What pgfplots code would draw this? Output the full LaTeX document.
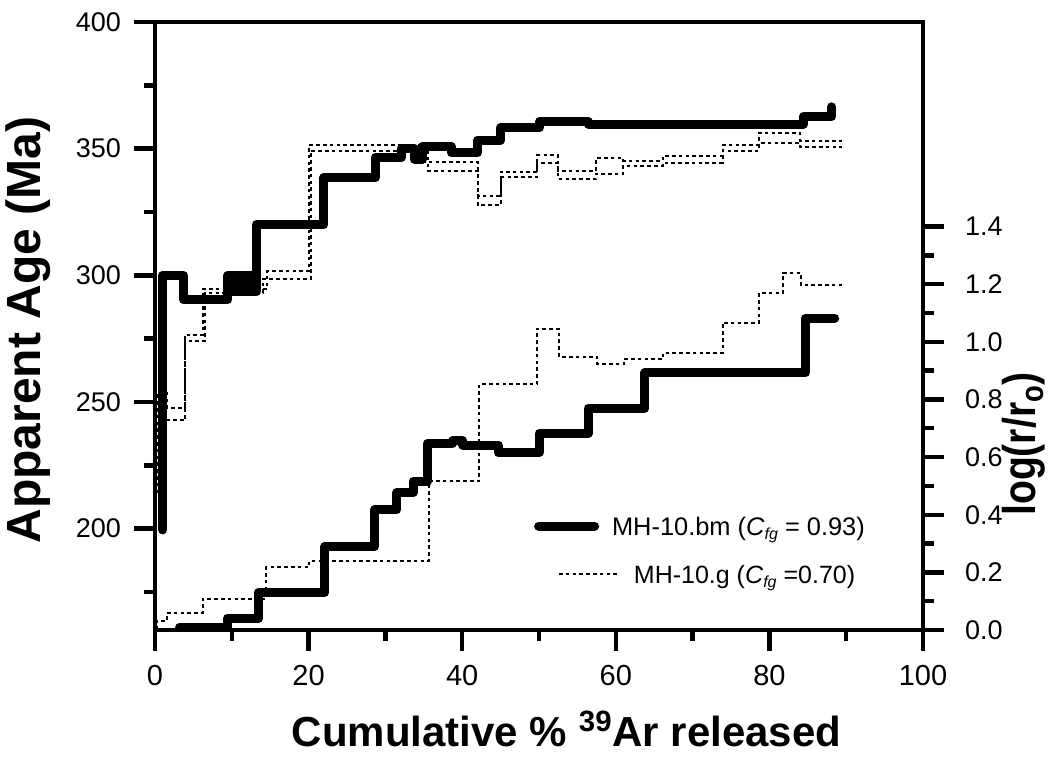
\documentclass[border=0pt]{standalone}
\usepackage{fontspec}
\setmainfont{Liberation Sans}
\usepackage{graphicx}
\usepackage{pgfplots}
\pgfplotsset{compat=1.18}

\pgfplotstableread{
x y
0.98 199.5
0.98 300
3.7 300
3.7 290.3
9.5 290.3
9.5 300
13.2 300
13.2 293.5
9.5 293.5
9.5 296.7
13.2 296.7
13.2 320
22.0 320
22.0 338.6
28.7 338.6
28.7 346.6
32.1 346.6
32.1 350
33.8 350
33.8 345.8
34.8 345.8
34.8 350.8
38.6 350.8
38.6 348.3
42.0 348.3
42.0 353.4
45.0 353.4
45.0 358.3
50.1 358.3
50.1 360.7
56.4 360.7
56.4 359.6
84.4 359.6
84.4 362.6
88.1 362.6
88.1 366.5
}\bmage

\pgfplotstableread{
x y
0.3 214
0.3 253.5
1.6 253.5
1.6 247.6
3.9 247.6
3.9 276.5
6.2 276.5
6.2 294.5
14.6 294.5
14.6 301.8
20.1 301.8
20.1 351.5
34.8 351.5
34.8 344.9
42.0 344.9
42.0 331.3
45.0 331.3
45.0 340.9
49.8 340.9
49.8 347.5
52.5 347.5
52.5 341.3
57.4 341.3
57.4 346.2
61.0 346.2
61.0 345.3
66.1 345.3
66.1 347.1
73.9 347.1
73.9 351.5
78.6 351.5
78.6 356.1
84.0 356.1
84.0 353.2
89.5 353.2
}\gageup

\pgfplotstableread{
x y
1.2 214
1.2 242.7
3.9 242.7
3.9 274.2
6.5 274.2
6.5 293
14.1 293
14.1 298.6
20.3 298.6
20.3 349.2
35.5 349.2
35.5 341.3
42.0 341.3
42.0 327.8
45.0 327.8
45.0 339
49.8 339
49.8 344.5
52.5 344.5
52.5 338
57.4 338
57.4 340
61.0 340
61.0 343.3
66.1 343.3
66.1 344.5
73.9 344.5
73.9 349.2
78.6 349.2
78.6 352.1
84.0 352.1
84.0 350.8
89.5 350.8
}\gagelo

\pgfplotstableread{
x y
3.2 0.01
9.4 0.01
9.4 0.041
13.5 0.041
13.5 0.13
22.1 0.13
22.1 0.289
28.6 0.289
28.6 0.417
31.5 0.417
31.5 0.477
33.6 0.477
33.6 0.517
35.5 0.517
35.5 0.648
38.8 0.648
38.8 0.656
40.1 0.656
40.1 0.642
44.7 0.642
44.7 0.615
50.0 0.615
50.0 0.683
56.4 0.683
56.4 0.770
63.8 0.770
63.8 0.893
84.7 0.893
84.7 1.082
88.5 1.082
}\bmlog

\pgfplotstableread{
x y
0.2 0.0
0.2 0.03
1.5 0.03
1.5 0.058
6.2 0.058
6.2 0.107
14.5 0.107
14.5 0.218
20.1 0.218
20.1 0.24
35.7 0.24
35.7 0.517
42.2 0.517
42.2 0.852
49.7 0.852
49.7 1.045
52.6 1.045
52.6 0.949
57.6 0.949
57.6 0.923
61.1 0.923
61.1 0.941
66.2 0.941
66.2 0.963
73.9 0.963
73.9 1.067
78.7 1.067
78.7 1.171
81.8 1.171
81.8 1.240
84.1 1.240
84.1 1.197
89.4 1.197
}\glog

\begin{document}
\begin{tikzpicture}
\pgfplotsset{
  common/.style={
    width=384pt, height=304pt, scale only axis,
    xmin=0, xmax=100, clip=false,
    tick align=outside,
    major tick length=10.5pt, minor tick length=5.5pt,
    tick style={line width=2.2pt, black},
    axis line style={line width=2.2pt, black},
    /pgf/number format/assume math mode=true,
  },
  thickline/.style={black, line width=4.5pt, line cap=round, line join=round},
  dotline/.style={black, line width=1pt, dash pattern=on 1.8pt off 1.6pt},
}
\begin{axis}[common,
  ymin=160, ymax=400,
  xtick={0,20,...,100}, minor xtick={10,30,...,90},
  ytick={200,250,...,400}, minor ytick={175,225,...,375},
  xtick pos=bottom, ytick pos=left,
  xticklabel style={font=\fontsize{14.5}{16}\selectfont, yshift=-3.5pt},
  yticklabel style={font=\fontsize{13.5}{15}\selectfont, xshift=-3pt},
  xlabel={Cumulative \% \textsuperscript{39}Ar released},
  xlabel style={font=\fontsize{21}{24}\selectfont\bfseries, at={(axis description cs:0.536,-0.192)}, anchor=base},
  ylabel={Apparent Age (Ma)},
  ylabel style={font=\fontsize{24}{28}\selectfont\bfseries, at={(axis description cs:-0.165,0.493)}, anchor=center},
  legend style={draw=none, fill=none, at={(axis description cs:0.4936,0.171)}, anchor=west,
    inner sep=0pt, outer sep=0pt, nodes={inner sep=0pt, text depth=0pt},
    font=\fontsize{12.7}{15}\selectfont},
  legend image code/.code={\draw[#1] (0pt,0pt) -- (28pt,0pt); \path (34.5pt,0pt);},
]
\addplot[thickline] table {\bmage};
\addlegendentry{MH-10.bm (\textit{C}\raisebox{-0.35ex}{\fontsize{8}{9}\selectfont\textit{fg}} = 0.93)}
\addplot[dotline, forget plot] table {\gageup};
\addplot[dotline, forget plot] table {\gagelo};
\end{axis}
\begin{axis}[common,
  ymin=0, ymax=2.11,
  axis x line=none, axis y line*=right,
  ytick={0,0.2,0.4,0.6,0.8,1.0,1.2,1.4},
  minor ytick={0.1,0.3,0.5,0.7,0.9,1.1,1.3},
  yticklabel style={font=\fontsize{13.5}{15}\selectfont, xshift=7pt, /pgf/number format/.cd, fixed, fixed zerofill, precision=1},
  ylabel={\scalebox{0.85}[1]{log(r/r\textsubscript{o})}},
  ylabel style={font=\fontsize{23}{26}\selectfont\bfseries, at={(axis description cs:1.1315,0.306)}, anchor=center},
  legend style={draw=none, fill=none, at={(axis description cs:0.5247,0.0921)}, anchor=west,
    inner sep=0pt, outer sep=0pt, nodes={inner sep=0pt, text depth=0pt},
    font=\fontsize{12.5}{15}\selectfont},
  legend image code/.code={\draw[#1] (0pt,0pt) -- (29.5pt,0pt); \path (37pt,0pt);},
]
\addplot[thickline, forget plot] table {\bmlog};
\addplot[dotline] table {\glog};
\addlegendentry{MH-10.g (\textit{C}\raisebox{-0.35ex}{\fontsize{8}{9}\selectfont\textit{fg}} =0.70)}
\end{axis}
\pgfresetboundingbox
\useasboundingbox (-77.5pt,-65.5pt) rectangle (448pt,315pt);
\end{tikzpicture}
\end{document}
